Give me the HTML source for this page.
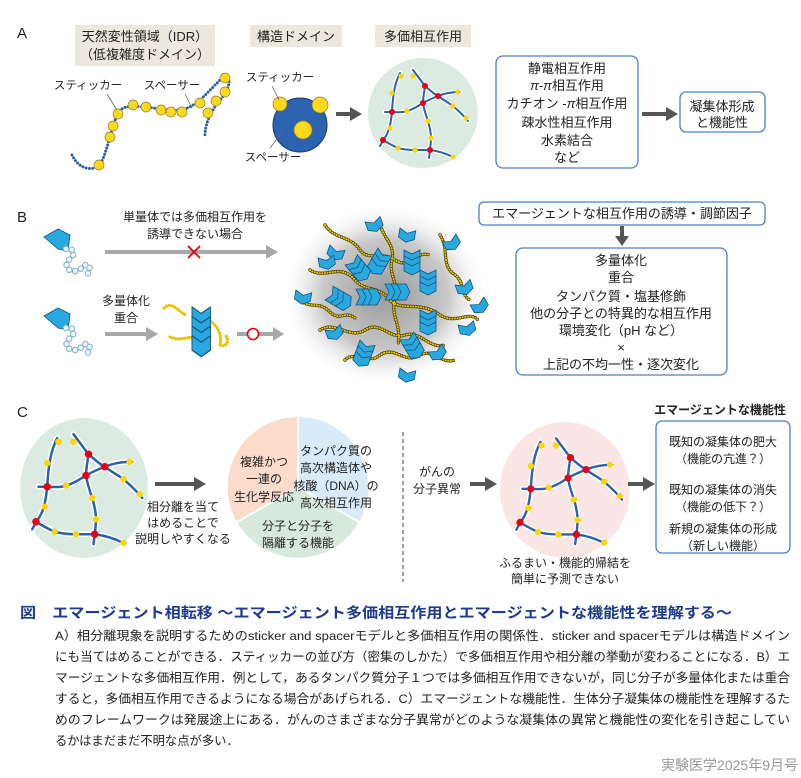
<!DOCTYPE html>
<html><head><meta charset="utf-8"><style>
body{margin:0;background:#fff}
svg{display:block}
text{font-family:"Liberation Sans","Noto Sans CJK JP",sans-serif;fill:#222}
</style></head><body>
<svg width="801" height="778" viewBox="0 0 801 778" xmlns="http://www.w3.org/2000/svg">
<defs>
<g id="net">
 <g fill="none" stroke="#fff" stroke-width="4.5" stroke-linecap="round">
  <path d="M-23,-40 C-28,-30 -30,-20 -31,-1 C-32,8 -33,15 -36,21 C-38,25 -40,27 -43,33"/>
  <path d="M-38,-1 C-28,-1 -20,0 -16,-2 C-8,-4 -4,-8 0,-10 C5,-13 10,-15 15,-17 C22,-20 30,-21 37,-21"/>
  <path d="M-10,-43 C-4,-35 -1,-31 2,-27 C8,-22 11,-19 15,-17 C22,-12 26,-10 30,-7 C37,-1 41,3 45,8"/>
  <path d="M2,-27 C1,-20 0,-15 0,-10 C1,-3 3,2 5,8 C7,15 8,20 8,25 C8,30 7,37 6,45"/>
  <path d="M-40,27 C-35,30 -30,33 -25,35 C-18,37 -12,37 -8,37 C-2,37 3,37 7,37 C15,38 22,40 30,44"/>
 </g>
 <g fill="none" stroke="#2b62ad" stroke-width="2" stroke-linecap="round">
  <path d="M-23,-40 C-28,-30 -30,-20 -31,-1 C-32,8 -33,15 -36,21 C-38,25 -40,27 -43,33"/>
  <path d="M-38,-1 C-28,-1 -20,0 -16,-2 C-8,-4 -4,-8 0,-10 C5,-13 10,-15 15,-17 C22,-20 30,-21 37,-21"/>
  <path d="M-10,-43 C-4,-35 -1,-31 2,-27 C8,-22 11,-19 15,-17 C22,-12 26,-10 30,-7 C37,-1 41,3 45,8"/>
  <path d="M2,-27 C1,-20 0,-15 0,-10 C1,-3 3,2 5,8 C7,15 8,20 8,25 C8,30 7,37 6,45"/>
  <path d="M-40,27 C-35,30 -30,33 -25,35 C-18,37 -12,37 -8,37 C-2,37 3,37 7,37 C15,38 22,40 30,44"/>
 </g>
 <g fill="#e60012">
  <circle cx="-31" cy="-1" r="3"/><circle cx="2" cy="-27" r="3"/><circle cx="0" cy="-10" r="3"/>
  <circle cx="15" cy="-17" r="3"/><circle cx="-40" cy="27" r="3"/><circle cx="7" cy="37" r="3"/>
 </g>
 <g fill="#ffd400">
  <circle cx="-22" cy="-37" r="2.6"/><circle cx="-31" cy="-20" r="2.6"/><circle cx="-33" cy="15" r="2.6"/>
  <circle cx="-16" cy="-2" r="2.6"/><circle cx="-10" cy="-37" r="2.6"/><circle cx="35" cy="-21" r="2.6"/>
  <circle cx="30" cy="-7" r="2.6"/><circle cx="43" cy="5" r="2.6"/><circle cx="5" cy="8" r="2.6"/>
  <circle cx="8" cy="25" r="2.6"/><circle cx="-25" cy="35" r="2.6"/><circle cx="-8" cy="37" r="2.6"/>
  <circle cx="30" cy="44" r="2.6"/>
 </g>
</g>
<polygon id="chev" points="0,0 8,4 16,0 16,9 8,13 0,9" fill="#29a8e0" stroke="#15557f" stroke-width="0.8"/>
<g id="chev3"><use href="#chev"/><use href="#chev" y="6"/><use href="#chev" y="12"/></g>
<g id="mono">
 <polygon points="0,8 14,0 26,6 24,22 14,20" fill="#29a8e0" stroke="#15557f" stroke-width="0.8"/>
 <path d="M22,20 C30,18 32,26 26,30 C20,34 22,42 30,42 C38,42 40,34 44,36 C48,40 44,46 40,48" fill="none" stroke="#7fb0c8" stroke-width="6.5" stroke-dasharray="0 6" stroke-linecap="round"/>
 <path d="M22,20 C30,18 32,26 26,30 C20,34 22,42 30,42 C38,42 40,34 44,36 C48,40 44,46 40,48" fill="none" stroke="#eef8fc" stroke-width="4.5" stroke-dasharray="0 6" stroke-linecap="round"/>
</g>
<radialGradient id="blob" cx="50%" cy="50%" r="50%">
 <stop offset="0" stop-color="#9a9a9a"/><stop offset="0.6" stop-color="#c8c8c8"/><stop offset="1" stop-color="#fff" stop-opacity="0"/>
</radialGradient>
</defs>

<!-- ===== A ===== -->
<text x="17" y="38" font-size="15">A</text>
<rect x="75" y="25" width="140" height="41" fill="#ece8dd"/>
<text x="145" y="41" font-size="13" text-anchor="middle">天然変性領域（IDR）</text>
<text x="145" y="59" font-size="13" text-anchor="middle">（低複雑度ドメイン）</text>
<rect x="250" y="25" width="92" height="22" fill="#ece8dd"/>
<text x="296" y="41" font-size="13" text-anchor="middle">構造ドメイン</text>
<rect x="375" y="25" width="96" height="22" fill="#ece8dd"/>
<text x="423" y="41" font-size="13" text-anchor="middle">多価相互作用</text>

<text x="88" y="89" font-size="11.5" text-anchor="middle">スティッカー</text>
<text x="172" y="89" font-size="11.5" text-anchor="middle">スペーサー</text>
<line x1="107" y1="94" x2="117" y2="110" stroke="#666" stroke-width="0.8"/>
<line x1="185" y1="94" x2="192" y2="108" stroke="#666" stroke-width="0.8"/>
<path d="M72,155 C80,172 95,170 100,165 C108,150 112,125 118,113 C125,100 150,110 180,110 C195,108 205,95 220,80 C232,70 232,88 220,100 C210,112 205,125 205,135" fill="none" stroke="#2b5fa8" stroke-width="3" stroke-dasharray="0 3.3" stroke-linecap="round"/>
<g fill="#ffd91a" stroke="#8a7a3a" stroke-width="0.7">
 <circle cx="99" cy="165" r="5"/><circle cx="110" cy="137" r="5"/><circle cx="113" cy="126" r="5"/>
 <circle cx="118" cy="114" r="5"/><circle cx="133" cy="105" r="5"/><circle cx="146" cy="107" r="5"/>
 <circle cx="161" cy="110" r="5"/><circle cx="171" cy="112" r="5"/><circle cx="182" cy="112" r="5"/>
 <circle cx="200" cy="103" r="5"/><circle cx="225" cy="78" r="5"/><circle cx="225" cy="92" r="5"/>
 <circle cx="216" cy="101" r="5"/><circle cx="208" cy="113" r="5"/>
</g>

<text x="280" y="81" font-size="11.5" text-anchor="middle">スティッカー</text>
<text x="273" y="161" font-size="11.5" text-anchor="middle">スペーサー</text>
<circle cx="300" cy="125" r="27" fill="#2b63b0" stroke="#1a3d70" stroke-width="1"/>
<g fill="#ffd91a" stroke="#8a7a3a" stroke-width="0.7">
 <circle cx="280" cy="104" r="7"/><circle cx="320" cy="105" r="8"/><circle cx="303" cy="130" r="9"/>
</g>
<line x1="272" y1="86" x2="279" y2="100" stroke="#666" stroke-width="0.8"/>
<line x1="270" y1="148" x2="283" y2="131" stroke="#666" stroke-width="0.8"/>
<path d="M336,114 H352" stroke="#555" stroke-width="4"/><polygon points="350,107 362,114 350,121" fill="#555"/>

<circle cx="423" cy="113" r="55" fill="#dcebe2"/>
<use href="#net" x="423" y="113"/>

<rect x="496" y="56" width="142" height="112" rx="7" fill="#fff" stroke="#4a80c4" stroke-width="1.3"/>
<g font-size="13" text-anchor="middle">
 <text x="567" y="73">静電相互作用</text>
 <text x="567" y="90"><tspan font-style="italic">π</tspan>-<tspan font-style="italic">π</tspan>相互作用</text>
 <text x="567" y="108">カチオン -<tspan font-style="italic">π</tspan>相互作用</text>
 <text x="567" y="127">疎水性相互作用</text>
 <text x="567" y="145">水素結合</text>
 <text x="567" y="162">など</text>
</g>
<path d="M642,114 H668" stroke="#555" stroke-width="4"/><polygon points="666,107 678,114 666,121" fill="#555"/>
<rect x="680" y="92" width="85" height="40" rx="6" fill="#fff" stroke="#4a80c4" stroke-width="1.3"/>
<text x="722" y="111" font-size="13" text-anchor="middle">凝集体形成</text>
<text x="722" y="127" font-size="13" text-anchor="middle">と機能性</text>

<!-- ===== B ===== -->
<text x="17" y="222" font-size="15">B</text>
<text x="195" y="221" font-size="12" text-anchor="middle">単量体では多価相互作用を</text>
<text x="195" y="238" font-size="12" text-anchor="middle">誘導できない場合</text>
<path d="M105,252 H268" stroke="#a8a8a8" stroke-width="4"/><polygon points="266,245 278,252 266,259" fill="#a8a8a8"/>
<path d="M188,246 L200,258 M200,246 L188,258" stroke="#e60012" stroke-width="1.8"/>
<use href="#mono" x="44" y="229"/>
<use href="#mono" x="44" y="308"/>
<text x="126" y="305" font-size="12" text-anchor="middle">多量体化</text>
<text x="126" y="322" font-size="12" text-anchor="middle">重合</text>
<path d="M105,334 H148" stroke="#a8a8a8" stroke-width="4"/><polygon points="146,327 158,334 146,341" fill="#a8a8a8"/>
<path d="M164,308 C172,300 178,312 186,315 M170,337 C180,342 190,335 196,338 M208,320 C218,325 222,335 220,345 C225,348 230,342 226,336" fill="none" stroke="#e8c400" stroke-width="3.2" stroke-dasharray="0 3" stroke-linecap="round"/>
<g transform="translate(192,307) scale(1.15,1.6)"><use href="#chev3"/><use href="#chev" y="18"/></g>
<path d="M237,334 H275" stroke="#a8a8a8" stroke-width="4"/><polygon points="273,327 284,334 273,341" fill="#a8a8a8"/>
<circle cx="253" cy="334" r="5.5" fill="#fff" stroke="#e60012" stroke-width="1.6"/>

<ellipse cx="385" cy="295" rx="105" ry="93" fill="url(#blob)"/>
<g fill="none" stroke="#3a3000" stroke-width="3.4" stroke-dasharray="0 2.6" stroke-linecap="round">
 <path d="M325,225 C335,240 350,235 360,250 C370,262 380,250 395,260 C410,270 415,250 430,255"/>
 <path d="M310,270 C325,280 340,262 355,280 C365,292 378,285 390,300 C400,312 420,300 440,315 C455,325 470,310 478,320"/>
 <path d="M320,330 C335,320 350,340 365,330 C380,320 390,340 405,335 C420,330 430,350 445,345"/>
 <path d="M345,360 C355,350 370,365 380,355 C395,345 405,365 420,355 C435,348 440,365 455,360"/>
 <path d="M380,225 C385,240 395,245 392,260 C388,275 400,285 395,300 C390,315 402,325 398,345"/>
 <path d="M440,235 C450,250 440,265 455,275 C465,282 460,295 470,300"/>
 <path d="M300,300 C312,310 318,300 330,312 C340,322 345,310 355,318"/>
</g>
<g fill="none" stroke="#e8c400" stroke-width="2.2" stroke-dasharray="0 2.6" stroke-linecap="round">
 <path d="M325,225 C335,240 350,235 360,250 C370,262 380,250 395,260 C410,270 415,250 430,255"/>
 <path d="M310,270 C325,280 340,262 355,280 C365,292 378,285 390,300 C400,312 420,300 440,315 C455,325 470,310 478,320"/>
 <path d="M320,330 C335,320 350,340 365,330 C380,320 390,340 405,335 C420,330 430,350 445,345"/>
 <path d="M345,360 C355,350 370,365 380,355 C395,345 405,365 420,355 C435,348 440,365 455,360"/>
 <path d="M380,225 C385,240 395,245 392,260 C388,275 400,285 395,300 C390,315 402,325 398,345"/>
 <path d="M440,235 C450,250 440,265 455,275 C465,282 460,295 470,300"/>
 <path d="M300,300 C312,310 318,300 330,312 C340,322 345,310 355,318"/>
</g>
<g>
 <use href="#chev" transform="translate(365,222) rotate(-20)"/>
 <use href="#chev" transform="translate(400,228) rotate(10)"/>
 <use href="#chev" transform="translate(442,242) rotate(-30)"/>
 <use href="#chev" transform="translate(330,245) rotate(20)"/>
 <use href="#chev3" transform="translate(378,248) rotate(30)"/>
 <use href="#chev3" transform="translate(404,250)"/>
 <use href="#chev" transform="translate(318,258) rotate(-10)"/>
 <use href="#chev3" transform="translate(345,265) rotate(-40)"/>
 <use href="#chev" transform="translate(296,290) rotate(10)"/>
 <use href="#chev3" transform="translate(420,270)"/>
 <use href="#chev" transform="translate(455,285) rotate(-20)"/>
 <use href="#chev3" transform="translate(325,300) rotate(-60)"/>
 <use href="#chev3" transform="translate(356,305) rotate(-90)"/>
 <use href="#chev3" transform="translate(385,300) rotate(-90)"/>
 <use href="#chev3" transform="translate(420,310)"/>
 <use href="#chev" transform="translate(458,325) rotate(-15)"/>
 <use href="#chev" transform="translate(325,330) rotate(-20)"/>
 <use href="#chev3" transform="translate(360,340) rotate(20)"/>
 <use href="#chev3" transform="translate(400,340) rotate(-30)"/>
 <use href="#chev" transform="translate(428,352) rotate(-30)"/>
 <use href="#chev" transform="translate(400,368) rotate(10)"/>
 <use href="#chev" transform="translate(470,305) rotate(-30)"/>
</g>

<rect x="479" y="202" width="286" height="23" rx="5" fill="#fff" stroke="#4a80c4" stroke-width="1.3"/>
<text x="622" y="218" font-size="13" text-anchor="middle">エマージェントな相互作用の誘導・調節因子</text>
<path d="M622,226 V238" stroke="#555" stroke-width="4"/><polygon points="615,236 622,246 629,236" fill="#555"/>
<rect x="516" y="248" width="211" height="127" rx="7" fill="#fff" stroke="#4a80c4" stroke-width="1.3"/>
<g font-size="13" text-anchor="middle">
 <text x="621" y="265">多量体化</text>
 <text x="621" y="282">重合</text>
 <text x="621" y="301">タンパク質・塩基修飾</text>
 <text x="621" y="318">他の分子との特異的な相互作用</text>
 <text x="621" y="335">環境変化（pH など）</text>
 <text x="621" y="352">×</text>
 <text x="621" y="369">上記の不均一性・逐次変化</text>
</g>

<!-- ===== C ===== -->
<text x="17" y="417" font-size="15">C</text>
<ellipse cx="84" cy="488" rx="64" ry="70" fill="#dcebe2"/>
<use href="#net" transform="translate(86,488) scale(1.25)"/>
<path d="M155,484 H196" stroke="#555" stroke-width="4"/><polygon points="194,477 206,484 194,491" fill="#555"/>
<g font-size="12" text-anchor="middle">
 <text x="183" y="511">相分離を当て</text>
 <text x="183" y="527">はめることで</text>
 <text x="183" y="543">説明しやすくなる</text>
</g>
<path d="M298,487 L298,417 A70,70 0 0,0 237,522 Z" fill="#fbdccb"/>
<path d="M298,487 L298,417 A70,70 0 0,1 359,522 Z" fill="#d9ebf8"/>
<path d="M298,487 L237,522 A70,70 0 0,0 359,522 Z" fill="#d7e9dc"/>
<path d="M298,417 V487 L237,522 M298,487 L359,522" stroke="#fff" stroke-width="2" fill="none"/>
<g font-size="12" text-anchor="middle">
 <text x="264" y="466">複雑かつ</text>
 <text x="264" y="483">一連の</text>
 <text x="264" y="501">生化学反応</text>
 <text x="336" y="455">タンパク質の</text>
 <text x="336" y="472">高次構造体や</text>
 <text x="336" y="490">核酸（DNA）の</text>
 <text x="336" y="507">高次相互作用</text>
 <text x="298" y="530">分子と分子を</text>
 <text x="298" y="547">隔離する機能</text>
</g>
<line x1="403" y1="432" x2="403" y2="582" stroke="#444" stroke-width="1" stroke-dasharray="4 3"/>
<text x="437" y="476" font-size="12" text-anchor="middle">がんの</text>
<text x="437" y="493" font-size="12" text-anchor="middle">分子異常</text>
<path d="M470,484 H487" stroke="#555" stroke-width="4"/><polygon points="485,477 497,484 485,491" fill="#555"/>
<ellipse cx="565" cy="490" rx="65" ry="68" fill="#fbe6e6"/>
<use href="#net" transform="translate(568,490) scale(1.2)"/>
<text x="565" y="567" font-size="12" text-anchor="middle">ふるまい・機能的帰結を</text>
<text x="565" y="583" font-size="12" text-anchor="middle">簡単に予測できない</text>
<path d="M628,484 H645" stroke="#555" stroke-width="4"/><polygon points="643,477 655,484 643,491" fill="#555"/>
<text x="720" y="414" font-size="12" font-weight="bold" text-anchor="middle">エマージェントな機能性</text>
<rect x="656" y="421" width="134" height="132" rx="6" fill="#fff" stroke="#4a80c4" stroke-width="1.3"/>
<g font-size="12" text-anchor="middle">
 <text x="723" y="446">既知の凝集体の肥大</text>
 <text x="723" y="463">（機能の亢進？）</text>
 <text x="723" y="494">既知の凝集体の消失</text>
 <text x="723" y="511">（機能の低下？）</text>
 <text x="723" y="533">新規の凝集体の形成</text>
 <text x="723" y="550">（新しい機能）</text>
</g>

<!-- ===== caption ===== -->
<text x="20" y="618" font-size="14.5" font-weight="bold" style="fill:#1e3a8c" textLength="712" lengthAdjust="spacingAndGlyphs">図　エマージェント相転移 ～エマージェント多価相互作用とエマージェントな機能性を理解する～</text>
<g font-size="12.3">
 <text x="55" y="640" textLength="735" lengthAdjust="spacingAndGlyphs">A）相分離現象を説明するためのsticker and spacerモデルと多価相互作用の関係性．sticker and spacerモデルは構造ドメイン</text>
 <text x="55" y="661" textLength="735" lengthAdjust="spacingAndGlyphs">にも当てはめることができる．スティッカーの並び方（密集のしかた）で多価相互作用や相分離の挙動が変わることになる．B）エ</text>
 <text x="55" y="682" textLength="735" lengthAdjust="spacingAndGlyphs">マージェントな多価相互作用．例として，あるタンパク質分子１つでは多価相互作用できないが，同じ分子が多量体化または重合</text>
 <text x="55" y="703" textLength="735" lengthAdjust="spacingAndGlyphs">すると，多価相互作用できるようになる場合があげられる．C）エマージェントな機能性．生体分子凝集体の機能性を理解するた</text>
 <text x="55" y="724" textLength="735" lengthAdjust="spacingAndGlyphs">めのフレームワークは発展途上にある．がんのさまざまな分子異常がどのような凝集体の異常と機能性の変化を引き起こしてい</text>
 <text x="55" y="745">るかはまだまだ不明な点が多い．</text>
</g>
<text x="798" y="770" font-size="14" text-anchor="end" style="fill:#999">実験医学2025年9月号</text>
</svg>
</body></html>
